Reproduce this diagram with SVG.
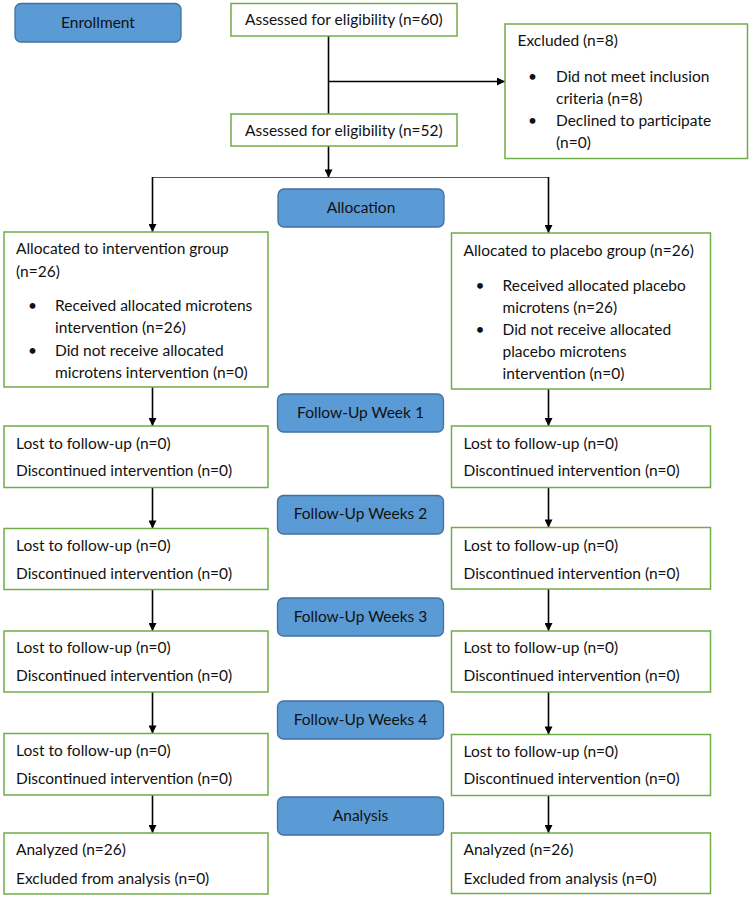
<svg xmlns="http://www.w3.org/2000/svg" width="751" height="897" viewBox="0 0 751 897">
<defs>
<marker id="arr" viewBox="0 0 10 10" refX="10" refY="5" markerWidth="8.5" markerHeight="8" markerUnits="userSpaceOnUse" orient="auto">
<path d="M0,0 L10,5 L0,10 z" fill="#000"/>
</marker>
<style>
.stage{fill:#5B9BD5;stroke:#41719C;stroke-width:1.3}
.box{fill:#fff;stroke:#70AD47;stroke-width:1.5}
text{font-family:Lato,"Liberation Sans",sans-serif;font-size:15.5px;fill:#111}
.c{text-anchor:middle}
.ln{fill:none;stroke:#000;stroke-width:1.6}
.thin{fill:none;stroke:#555;stroke-width:1}
</style>
</defs>
<rect width="751" height="897" fill="#fff"/>

<g id="connectors">
<line class="ln" x1="328.5" y1="36" x2="328.5" y2="114"/>
<line class="ln" x1="328.5" y1="81.5" x2="505" y2="81.5" marker-end="url(#arr)"/>
<line class="ln" x1="328.5" y1="146" x2="328.5" y2="177.5" marker-end="url(#arr)"/>
<polyline class="thin" points="152.5,177.5 548.5,177.5"/>
<line class="ln" x1="152.5" y1="177" x2="152.5" y2="232" marker-end="url(#arr)"/>
<line class="ln" x1="548.5" y1="177" x2="548.5" y2="233" marker-end="url(#arr)"/>
<line class="ln" x1="152.5" y1="387" x2="152.5" y2="426" marker-end="url(#arr)"/>
<line class="ln" x1="152.5" y1="487.5" x2="152.5" y2="528.5" marker-end="url(#arr)"/>
<line class="ln" x1="152.5" y1="589.5" x2="152.5" y2="631" marker-end="url(#arr)"/>
<line class="ln" x1="152.5" y1="692" x2="152.5" y2="733.5" marker-end="url(#arr)"/>
<line class="ln" x1="152.5" y1="795" x2="152.5" y2="833" marker-end="url(#arr)"/>
<line class="ln" x1="548.5" y1="389" x2="548.5" y2="426" marker-end="url(#arr)"/>
<line class="ln" x1="548.5" y1="487.5" x2="548.5" y2="527.5" marker-end="url(#arr)"/>
<line class="ln" x1="548.5" y1="589" x2="548.5" y2="631" marker-end="url(#arr)"/>
<line class="ln" x1="548.5" y1="692" x2="548.5" y2="734.5" marker-end="url(#arr)"/>
<line class="ln" x1="548.5" y1="795.5" x2="548.5" y2="833" marker-end="url(#arr)"/>
</g>

<g id="enrollment"><rect class="stage" x="15" y="3.5" width="166" height="38.5" rx="6"/><text class="c" x="98" y="27.5">Enrollment</text></g>
<g id="assessed60"><rect class="box" x="231" y="3.5" width="226" height="32.5"/><text x="245" y="25">Assessed for eligibility (n=60)</text></g>
<g id="excluded"><rect class="box" x="505" y="24" width="242.5" height="134.5"/>
<text x="517.5" y="46">Excluded (n=8)</text>
<text x="528" y="82">•</text><text x="556" y="82">Did not meet inclusion</text>
<text x="556" y="104">criteria (n=8)</text>
<text x="528" y="126">•</text><text x="556" y="126">Declined to participate</text>
<text x="556" y="148">(n=0)</text></g>
<g id="assessed52"><rect class="box" x="231" y="114" width="226" height="32"/><text x="245" y="135.5">Assessed for eligibility (n=52)</text></g>
<g id="allocation"><rect class="stage" x="278" y="189" width="166" height="38" rx="6"/><text class="c" x="361" y="212.5">Allocation</text></g>

<g id="intervention"><rect class="box" x="4" y="232" width="264" height="155"/>
<text x="16" y="254">Allocated to intervention group</text>
<text x="16" y="277">(n=26)</text>
<text x="28" y="311">•</text><text x="55" y="311">Received allocated microtens</text>
<text x="55" y="333">intervention (n=26)</text>
<text x="28" y="355.5">•</text><text x="55" y="355.5">Did not receive allocated</text>
<text x="55" y="377.5">microtens intervention (n=0)</text></g>

<g id="placebo"><rect class="box" x="451.5" y="233" width="259" height="156"/>
<text x="463.5" y="255.5">Allocated to placebo group (n=26)</text>
<text x="475.5" y="290.5">•</text><text x="502.5" y="290.5">Received allocated placebo</text>
<text x="502.5" y="312.5">microtens (n=26)</text>
<text x="475.5" y="334.5">•</text><text x="502.5" y="334.5">Did not receive allocated</text>
<text x="502.5" y="356.5">placebo microtens</text>
<text x="502.5" y="378.5">intervention (n=0)</text></g>

<g id="fu1"><rect class="stage" x="277.5" y="394" width="166" height="38" rx="6"/><text class="c" x="360.5" y="417.5">Follow-Up Week 1</text></g>
<g id="fu2"><rect class="stage" x="277.5" y="495.5" width="166" height="38.5" rx="6"/><text class="c" x="360.5" y="519">Follow-Up Weeks 2</text></g>
<g id="fu3"><rect class="stage" x="277.5" y="598" width="166" height="38" rx="6"/><text class="c" x="360.5" y="621.5">Follow-Up Weeks 3</text></g>
<g id="fu4"><rect class="stage" x="277.5" y="701" width="166" height="38" rx="6"/><text class="c" x="360.5" y="724.5">Follow-Up Weeks 4</text></g>
<g id="analysis"><rect class="stage" x="277.5" y="797" width="166" height="38" rx="6"/><text class="c" x="360.5" y="820.5">Analysis</text></g>

<g id="left1"><rect class="box" x="4" y="426" width="264" height="61.5"/><text x="16" y="448.5">Lost to follow-up (n=0)</text><text x="16" y="476">Discontinued intervention (n=0)</text></g>
<g id="left2"><rect class="box" x="4" y="528.5" width="264" height="61"/><text x="16" y="551">Lost to follow-up (n=0)</text><text x="16" y="578.5">Discontinued intervention (n=0)</text></g>
<g id="left3"><rect class="box" x="4" y="631" width="264" height="61"/><text x="16" y="653">Lost to follow-up (n=0)</text><text x="16" y="681">Discontinued intervention (n=0)</text></g>
<g id="left4"><rect class="box" x="4" y="733.5" width="264" height="61.5"/><text x="16" y="756">Lost to follow-up (n=0)</text><text x="16" y="783.5">Discontinued intervention (n=0)</text></g>
<g id="left5"><rect class="box" x="4" y="833" width="264" height="61"/><text x="16" y="855">Analyzed (n=26)</text><text x="16" y="883.5">Excluded from analysis (n=0)</text></g>

<g id="right1"><rect class="box" x="451.5" y="426" width="259" height="61.5"/><text x="463.5" y="448.5">Lost to follow-up (n=0)</text><text x="463.5" y="476">Discontinued intervention (n=0)</text></g>
<g id="right2"><rect class="box" x="451.5" y="527.5" width="259" height="61.5"/><text x="463.5" y="551">Lost to follow-up (n=0)</text><text x="463.5" y="578.5">Discontinued intervention (n=0)</text></g>
<g id="right3"><rect class="box" x="451.5" y="631" width="259" height="61"/><text x="463.5" y="653">Lost to follow-up (n=0)</text><text x="463.5" y="681">Discontinued intervention (n=0)</text></g>
<g id="right4"><rect class="box" x="451.5" y="734.5" width="259" height="61"/><text x="463.5" y="757">Lost to follow-up (n=0)</text><text x="463.5" y="784">Discontinued intervention (n=0)</text></g>
<g id="right5"><rect class="box" x="451.5" y="833" width="259" height="60.5"/><text x="463.5" y="855">Analyzed (n=26)</text><text x="463.5" y="883.5">Excluded from analysis (n=0)</text></g>
</svg>
